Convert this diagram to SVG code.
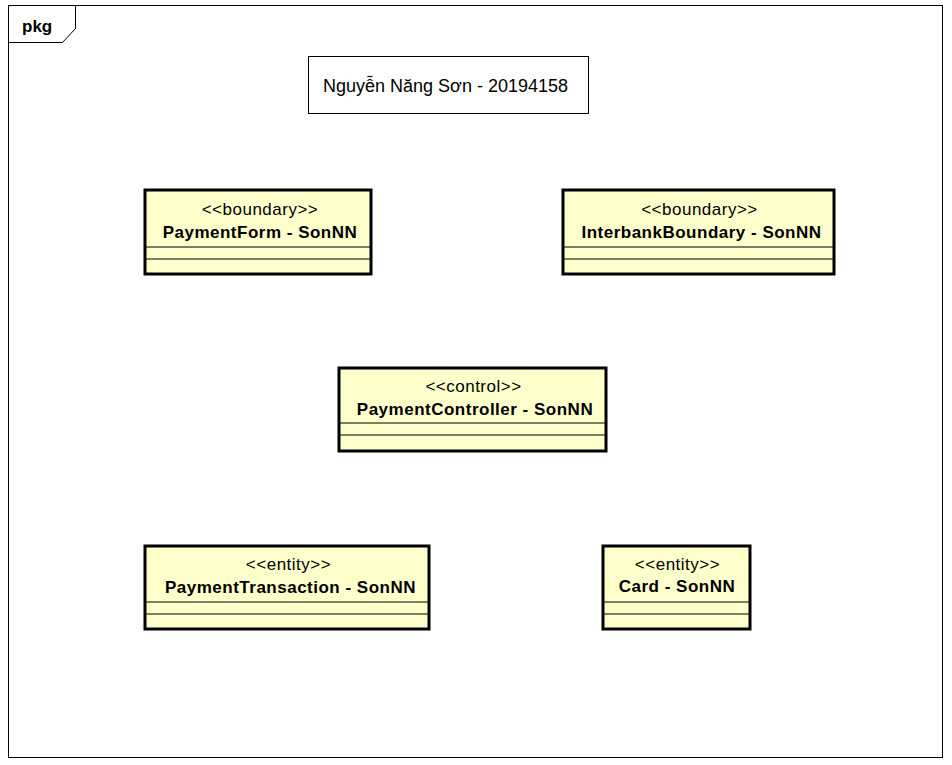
<svg xmlns="http://www.w3.org/2000/svg" width="952" height="765" viewBox="0 0 952 765">
<style>
.frame{fill:none;stroke:#000;stroke-width:1}
.cls{fill:#ffffcc;stroke:#000;stroke-width:3}
.sep{stroke:#000;stroke-width:1}
.st{font-family:"Liberation Sans",Arial,sans-serif;font-size:17px;letter-spacing:0.5px;text-anchor:middle;fill:#000}
.nm{font-family:"Liberation Sans",Arial,sans-serif;font-size:17px;letter-spacing:0.5px;font-weight:bold;text-anchor:middle;fill:#000}
.lbl{font-family:"Liberation Sans",Arial,sans-serif;font-size:18px;fill:#000}
</style>
<rect x="0" y="0" width="952" height="765" fill="#fff"/>
<g id="frame">
<rect class="frame" x="8.5" y="5.5" width="934" height="752"/>
<path class="frame" d="M8.5,42.5 H62.5 L75.5,28.5 V5.5"/>
<text x="22" y="32" style="font-family:'Liberation Sans',Arial,sans-serif;font-size:17px;font-weight:bold">pkg</text>
</g>
<g id="note">
<rect x="308.5" y="56.5" width="280" height="57" fill="#fff" stroke="#000" stroke-width="1"/>
<text class="lbl" x="323" y="92">Nguyễn Năng Sơn - 20194158</text>
</g>
<g id="paymentForm">
<rect class="cls" x="145" y="190" width="226" height="84"/>
<line class="sep" x1="145" y1="247" x2="371" y2="247"/>
<line class="sep" x1="145" y1="259" x2="371" y2="259"/>
<text class="st" x="260" y="215">&lt;&lt;boundary&gt;&gt;</text>
<text class="nm" x="260" y="238">PaymentForm - SonNN</text>
</g>
<g id="interbankBoundary">
<rect class="cls" x="563" y="190" width="271" height="84"/>
<line class="sep" x1="563" y1="247" x2="834" y2="247"/>
<line class="sep" x1="563" y1="259" x2="834" y2="259"/>
<text class="st" x="699.5" y="215">&lt;&lt;boundary&gt;&gt;</text>
<text class="nm" x="701.5" y="238">InterbankBoundary - SonNN</text>
</g>
<g id="paymentController">
<rect class="cls" x="339" y="368" width="267" height="83"/>
<line class="sep" x1="339" y1="423" x2="606" y2="423"/>
<line class="sep" x1="339" y1="435" x2="606" y2="435"/>
<text class="st" x="473.5" y="392">&lt;&lt;control&gt;&gt;</text>
<text class="nm" x="475" y="415">PaymentController - SonNN</text>
</g>
<g id="paymentTransaction">
<rect class="cls" x="145" y="546" width="284" height="83"/>
<line class="sep" x1="145" y1="602" x2="429" y2="602"/>
<line class="sep" x1="145" y1="614" x2="429" y2="614"/>
<text class="st" x="288.5" y="570">&lt;&lt;entity&gt;&gt;</text>
<text class="nm" x="290.5" y="593">PaymentTransaction - SonNN</text>
</g>
<g id="card">
<rect class="cls" x="603" y="546" width="147" height="83"/>
<line class="sep" x1="603" y1="602" x2="750" y2="602"/>
<line class="sep" x1="603" y1="614" x2="750" y2="614"/>
<text class="st" x="677.5" y="570">&lt;&lt;entity&gt;&gt;</text>
<text class="nm" x="677" y="592">Card - SonNN</text>
</g>
<g id="connectors"></g>
</svg>
